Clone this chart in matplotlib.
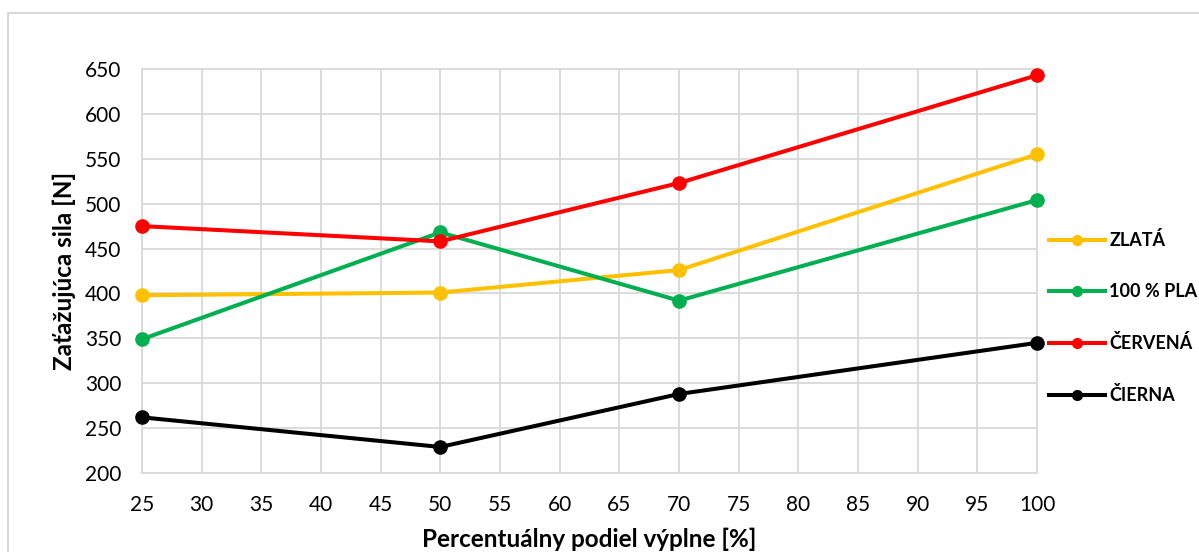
import matplotlib
matplotlib.use("Agg")
import matplotlib.pyplot as plt
from matplotlib.lines import Line2D

plt.rcParams['font.family'] = ['Lato', 'DejaVu Sans']

x_vals = [25, 50, 70, 100]
zlata = [398, 401, 426, 555]
pla100 = [349, 468, 392, 504]
cervena = [475, 458, 523, 643]
cierna = [262, 229, 288, 345]

series_names = ["ZLATÁ", "100 % PLA", "ČERVENÁ", "ČIERNA"]
series_vals = [zlata, pla100, cervena, cierna]
series_colors = ["#FFC000", "#00B050", "#FF0000", "#000000"]

x_ticks = list(range(25, 101, 5))
y_ticks = list(range(200, 651, 50))

W, H = 1199, 552
fig = plt.figure(figsize=(W / 100, H / 100), dpi=100)
ax = fig.add_axes([142 / W, 1 - 473 / H, (1037 - 142) / W, (473 - 69) / H])

# chart-area border (top and left edges visible in the crop)
fig.add_artist(Line2D([8 / W, 1.0], [1 - 13 / H, 1 - 13 / H], transform=fig.transFigure,
                      color="#D9D9D9", linewidth=1.5))
fig.add_artist(Line2D([8 / W, 8 / W], [0, 1 - 13 / H], transform=fig.transFigure,
                      color="#D9D9D9", linewidth=1.5))

for name, vals, col in zip(series_names, series_vals, series_colors):
    ax.plot(x_vals, vals, color=col, linewidth=2.9, marker='o',
            markersize=9.5, label=name, clip_on=False, zorder=3)

ax.set_xlim(25, 100)
ax.set_ylim(200, 650)
ax.set_xticks(x_ticks)
ax.set_yticks(y_ticks)
ax.grid(True, color="#D9D9D9", linewidth=1.3)
ax.set_axisbelow(True)
for s in ax.spines.values():
    s.set_color("#D9D9D9")
    s.set_linewidth(1.3)
ax.tick_params(axis='both', length=0, labelsize=15, colors="#000000")
ax.tick_params(axis='x', pad=16)
ax.tick_params(axis='y', pad=15)

ax.set_xlabel("Percentuálny podiel výplne [%]", fontsize=17.5, fontweight='bold', labelpad=9)
ax.set_ylabel("Zaťažujúca sila [N]", fontsize=17.5, fontweight='bold', labelpad=6)

leg = ax.legend(loc='upper left', bbox_to_anchor=(1049 / W, 1 - 231 / H),
                bbox_transform=fig.transFigure, frameon=False,
                fontsize=13, labelspacing=1.88, handlelength=3.1,
                handletextpad=0.25, borderaxespad=0, borderpad=0)
for t in leg.get_texts():
    t.set_fontweight('bold')
for h in leg.legend_handles:
    h.set_markersize(7)

fig.savefig("out.png", dpi=100)
